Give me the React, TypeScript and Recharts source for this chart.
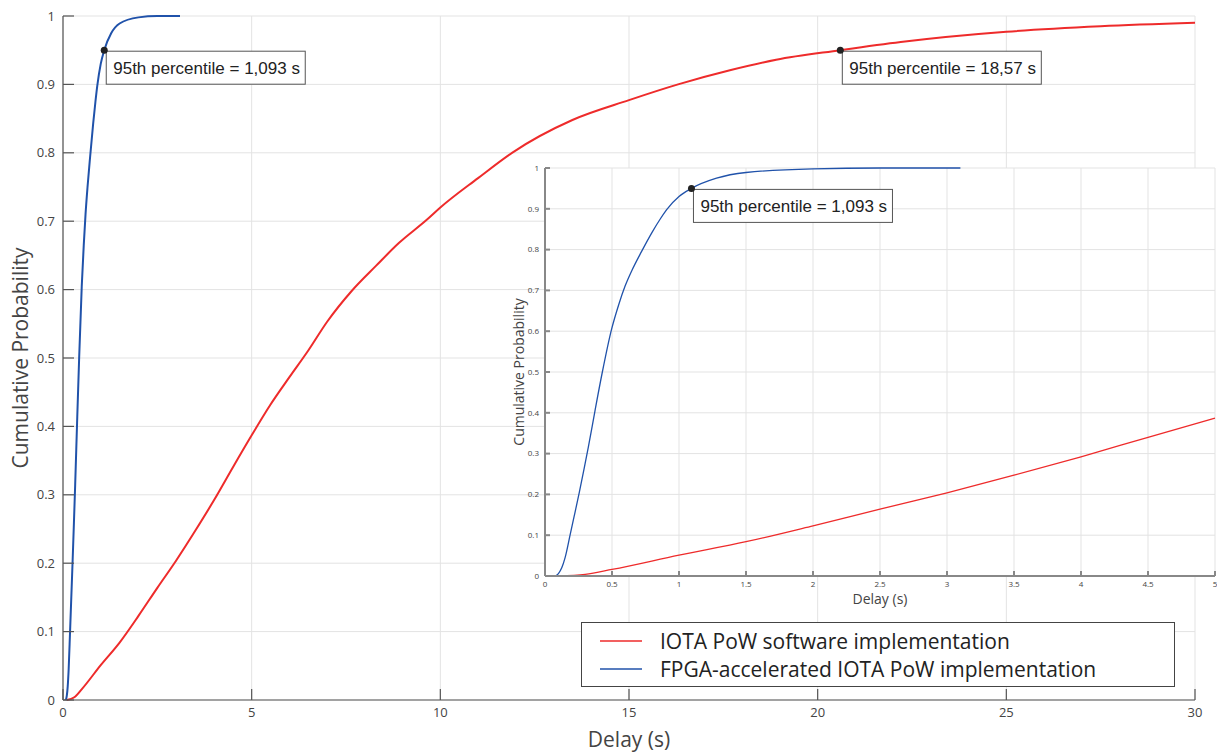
import React from "react";
import {
  LineChart,
  Line,
  XAxis,
  YAxis,
  CartesianGrid,
  ReferenceDot,
  Legend,
} from "recharts";

// CDF of PoW delay
const softwareDelay = [
  0.1, 0.3, 0.5, 1.0, 1.5, 2.0, 2.5, 3.0, 3.5, 4.0, 4.5, 5.0, 5.5, 6.0, 6.5,
  7.0, 7.65, 8.3, 8.9, 9.64, 10, 11, 11.9, 13.5, 15, 16.3, 17.7, 18.9, 20.6,
  22.2, 25, 27.5, 30,
];
const softwareProb = [
  0, 0.004, 0.016, 0.051, 0.084, 0.123, 0.164, 0.204, 0.247, 0.292, 0.34,
  0.387, 0.432, 0.472, 0.511, 0.553, 0.598, 0.635, 0.668, 0.702, 0.72, 0.763,
  0.8, 0.848, 0.877, 0.9, 0.921, 0.936, 0.95, 0.962, 0.977, 0.985, 0.99,
];

const fpgaDelay = [
  0.075, 0.1, 0.125, 0.15, 0.187, 0.22, 0.256, 0.29, 0.323, 0.373, 0.428,
  0.497, 0.55, 0.597, 0.65, 0.72, 0.8, 0.86, 0.908, 1.0, 1.093, 1.28, 1.5,
  2.0, 2.5, 3.1,
];
const fpgaProb = [
  0, 0.006, 0.02, 0.045, 0.1, 0.15, 0.205, 0.26, 0.315, 0.405, 0.5, 0.605,
  0.665, 0.71, 0.75, 0.795, 0.843, 0.875, 0.898, 0.93, 0.95, 0.975, 0.989,
  0.998, 1.0, 1.0,
];

const mainXTicks = [0, 5, 10, 15, 20, 25, 30];
const insetXTicks = [0, 0.5, 1, 1.5, 2, 2.5, 3, 3.5, 4, 4.5, 5];
const probTicks = [0, 0.1, 0.2, 0.3, 0.4, 0.5, 0.6, 0.7, 0.8, 0.9, 1];

const p95Prob = 0.95;
const fpgaP95 = 1.093;
const softwareP95 = 20.6; // where the marker sits on the red curve
const fpgaP95Text = "95th percentile = 1,093 s";
const softwareP95Text = "95th percentile = 18,57 s";

const softwareName = "IOTA PoW software implementation";
const fpgaName = "FPGA-accelerated IOTA PoW implementation";
const legendOrder = [softwareName, fpgaName];

const RED = "#ee2b2b";
const BLUE = "#2052aa";
const GRID = "#e3e3e3";
const AXIS = "#555";
const TEXT = "#444";
const FONT = "'Open Sans', sans-serif";

const softwareData = softwareDelay.map((d, i) => ({ delay: d, prob: softwareProb[i] }));
const fpgaData = fpgaDelay.map((d, i) => ({ delay: d, prob: fpgaProb[i] }));
const softwareInset = softwareData.filter((p) => p.delay <= 5);

const fmt = (v: number) => String(+Number(v).toFixed(1));

const percentileMarker = (text: string, size: number) => (props: any) => {
  const { cx, cy } = props;
  return (
    <g>
      <rect x={cx + 2} y={cy + 1} width={199} height={33} fill="#fff" stroke="#555" strokeWidth={1} />
      <text x={cx + 9} y={cy + 24} fontSize={size} fill="#222" fontFamily="'Liberation Sans', Arial, sans-serif">
        {text}
      </text>
      <circle cx={cx} cy={cy} r={3.5} fill="#222" />
    </g>
  );
};

const LegendBox = (props: any) => {
  const items = [...(props.payload || [])].sort(
    (a: any, b: any) => legendOrder.indexOf(a.value) - legendOrder.indexOf(b.value)
  );
  return (
    <div
      style={{
        width: 594,
        height: 65,
        boxSizing: "border-box",
        border: "1px solid #444",
        background: "#fff",
        padding: "4px 0 0 18px",
        fontFamily: FONT,
        fontSize: 21,
        color: "#222",
      }}
    >
      {items.map((entry: any) => (
        <div key={entry.value} style={{ display: "flex", alignItems: "center", height: 28 }}>
          <span style={{ width: 42, height: 0, borderTop: `2px solid ${entry.color}`, marginRight: 18, opacity: 0.75 }} />
          <span>{entry.value}</span>
        </div>
      ))}
    </div>
  );
};

const mainTick = { fill: TEXT, fontSize: 13, fontFamily: FONT };
const insetTick = { fill: TEXT, fontSize: 8, fontFamily: FONT };

const App: React.FC = () => {
  return (
    <div style={{ position: "absolute", left: 0, top: 0, width: 1217, height: 755, background: "#fff" }}>
      {/* main chart */}
      <div style={{ position: "absolute", left: 0, top: 0 }}>
        <LineChart width={1217} height={755} margin={{ top: 16, right: 22, left: 0, bottom: 0 }}>
          <CartesianGrid stroke={GRID} strokeWidth={1} />
          {/* negative tickSize: ticks point into the plot, MATLAB style */}
          <XAxis
            type="number"
            dataKey="delay"
            domain={[0, 30]}
            ticks={mainXTicks}
            height={55}
            stroke={AXIS}
            strokeWidth={1.2}
            tickSize={-11}
            tickMargin={19}
            tick={mainTick}
            tickFormatter={fmt}
            label={{
              content: (p: any) => (
                <text
                  x={p.viewBox.x + p.viewBox.width / 2}
                  y={p.viewBox.y + 47}
                  textAnchor="middle"
                  fontSize={21}
                  fill={TEXT}
                  fontFamily={FONT}
                >
                  Delay (s)
                </text>
              ),
            }}
          />
          <YAxis
            type="number"
            domain={[0, 1]}
            ticks={probTicks}
            width={63}
            stroke={AXIS}
            strokeWidth={1.2}
            tickSize={-11}
            tickMargin={19}
            tick={mainTick}
            tickFormatter={fmt}
            label={{
              content: (p: any) => {
                const cx = p.viewBox.x + 20;
                const cy = p.viewBox.y + p.viewBox.height / 2;
                return (
                  <text
                    x={cx}
                    y={cy}
                    transform={`rotate(-90 ${cx} ${cy})`}
                    textAnchor="middle"
                    dominantBaseline="central"
                    fontSize={21}
                    fill={TEXT}
                    fontFamily={FONT}
                  >
                    Cumulative Probability
                  </text>
                );
              },
            }}
          />
          <Line
            data={softwareData}
            dataKey="prob"
            name={softwareName}
            type="monotone"
            stroke={RED}
            strokeWidth={2}
            dot={false}
            isAnimationActive={false}
          />
          <Line
            data={fpgaData}
            dataKey="prob"
            name={fpgaName}
            type="monotone"
            stroke={BLUE}
            strokeWidth={2}
            dot={false}
            isAnimationActive={false}
          />
          <ReferenceDot x={fpgaP95} y={p95Prob} shape={percentileMarker(fpgaP95Text, 17)} />
          <ReferenceDot x={softwareP95} y={p95Prob} shape={percentileMarker(softwareP95Text, 17)} />
          <Legend
            layout="horizontal"
            verticalAlign="middle"
            align="center"
            content={<LegendBox />}
            wrapperStyle={{ left: 581, top: 622, width: 594, height: 65 }}
          />
        </LineChart>
      </div>

      {/* zoomed inset */}
      <div style={{ position: "absolute", left: 495, top: 158 }}>
        <LineChart width={722} height={462} margin={{ top: 10, right: 2, left: 0, bottom: 0 }}>
          <CartesianGrid stroke={GRID} strokeWidth={1} fill="#fff" fillOpacity={1} />
          <XAxis
            type="number"
            dataKey="delay"
            domain={[0, 5]}
            ticks={insetXTicks}
            height={44}
            stroke="#888"
            strokeWidth={2}
            tickSize={-5}
            tickMargin={10}
            tick={insetTick}
            tickFormatter={fmt}
            label={{
              content: (p: any) => (
                <text
                  x={p.viewBox.x + p.viewBox.width / 2}
                  y={p.viewBox.y + 28}
                  textAnchor="middle"
                  fontSize={14}
                  fill={TEXT}
                  fontFamily={FONT}
                >
                  Delay (s)
                </text>
              ),
            }}
          />
          <YAxis
            type="number"
            domain={[0, 1]}
            ticks={probTicks}
            width={50}
            stroke="#888"
            strokeWidth={2}
            tickSize={-5}
            tickMargin={11}
            tick={insetTick}
            tickFormatter={fmt}
            label={{
              content: (p: any) => {
                const cx = p.viewBox.x + 23;
                const cy = p.viewBox.y + p.viewBox.height / 2;
                return (
                  <text
                    x={cx}
                    y={cy}
                    transform={`rotate(-90 ${cx} ${cy})`}
                    textAnchor="middle"
                    dominantBaseline="central"
                    fontSize={14}
                    fill={TEXT}
                    fontFamily={FONT}
                  >
                    Cumulative Probability
                  </text>
                );
              },
            }}
          />
          <Line
            data={softwareInset}
            dataKey="prob"
            type="monotone"
            stroke={RED}
            strokeWidth={1.3}
            dot={false}
            isAnimationActive={false}
          />
          <Line
            data={fpgaData}
            dataKey="prob"
            type="monotone"
            stroke={BLUE}
            strokeWidth={1.3}
            dot={false}
            isAnimationActive={false}
          />
          <ReferenceDot x={fpgaP95} y={p95Prob} shape={percentileMarker(fpgaP95Text, 17)} />
        </LineChart>
      </div>
    </div>
  );
};

export default App;
